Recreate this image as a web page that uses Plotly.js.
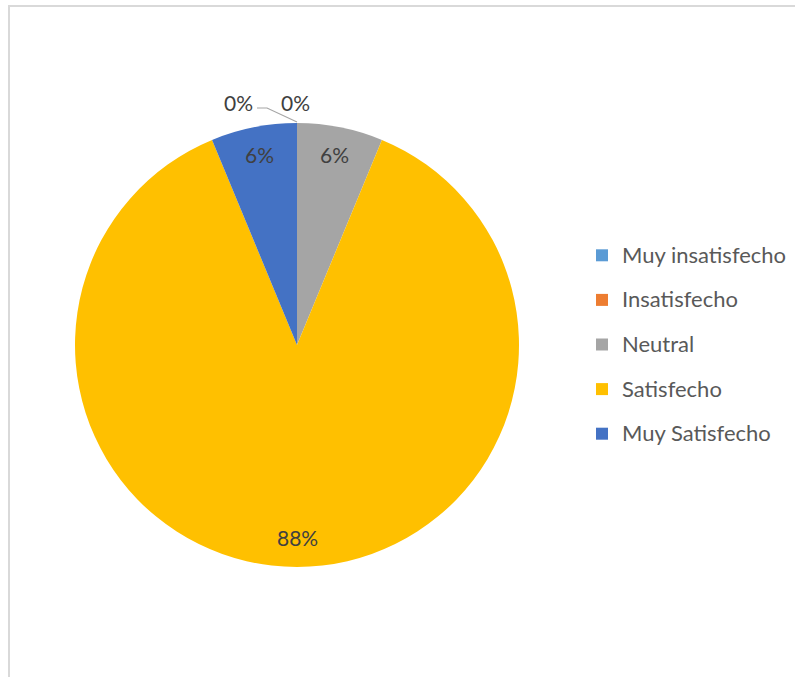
<!DOCTYPE html>
<html>
<head>
<meta charset="utf-8">
<script src="https://cdn.plot.ly/plotly-3.0.1.min.js"></script>
<style>
  html, body { margin:0; padding:0; background:#fff; }
  #chart { position:absolute; left:0; top:0; width:795px; height:677px; }
  #frame { position:absolute; left:8px; top:5px; width:800px; height:700px;
           border-left:2px solid #d9d9d9; border-top:2px solid #d9d9d9; pointer-events:none; }
</style>
</head>
<body>
<div id="chart"></div>
<div id="frame"></div>
<script>
const categories = ["Muy insatisfecho", "Insatisfecho", "Neutral", "Satisfecho", "Muy Satisfecho"];
const values = [0, 0, 1, 14, 1];
const colors = ["#5B9BD5", "#ED7D31", "#A5A5A5", "#FFC000", "#4472C4"];

const W = 795, H = 677;
const cx = 297, cy = 345, R = 222;
const px = x => x / W;
const py = y => 1 - y / H;

const total = values.reduce((a, b) => a + b, 0);
const pct = values.map(v => Math.round(v / total * 100) + '%');

const labelFont = {family: 'Lato, sans-serif', size: 21, color: '#404040'};
const annotations = [];
let acc = 0;
values.forEach((v, i) => {
  const startA = acc / total * 2 * Math.PI;
  acc += v;
  const endA = acc / total * 2 * Math.PI;
  if (v > 0) {
    const mid = (startA + endA) / 2;
    const r = 0.87 * R;
    annotations.push({
      x: px(cx + r * Math.sin(mid)), y: py(cy - r * Math.cos(mid) - 1),
      xref: 'paper', yref: 'paper', text: pct[i], showarrow: false,
      font: labelFont, xanchor: 'center', yanchor: 'middle'
    });
  }
});
// zero-value labels placed outside (first one with leader line)
const zeroPos = [[238, 102], [295, 102]];
let zi = 0;
values.forEach((v, i) => {
  if (v === 0 && zi < zeroPos.length) {
    annotations.push({
      x: px(zeroPos[zi][0]), y: py(zeroPos[zi][1]),
      xref: 'paper', yref: 'paper', text: pct[i], showarrow: false,
      font: labelFont, xanchor: 'center', yanchor: 'middle'
    });
    zi++;
  }
});

const shapes = [{
  type: 'path', xref: 'paper', yref: 'paper',
  path: `M ${px(257)},${py(108)} L ${px(267)},${py(108)} L ${px(297)},${py(122)}`,
  line: {color: '#a6a6a6', width: 1.2}
}];

const trace = {
  type: 'pie',
  labels: categories.map(c => `<span style="font-size:22px;baseline-shift:5px">${c}</span>`),
  values: values,
  marker: {colors: colors, line: {width: 0}},
  sort: false,
  direction: 'clockwise',
  rotation: 0,
  textinfo: 'none',
  hoverinfo: 'label+percent',
  domain: {x: [75 / W, 519 / W], y: [1 - 567 / H, 1 - 123 / H]}
};

const layout = {
  width: W, height: H,
  margin: {l: 0, r: 0, t: 0, b: 0},
  paper_bgcolor: '#ffffff',
  showlegend: true,
  legend: {
    x: px(582), y: py(228), xanchor: 'left', yanchor: 'top',
    font: {family: 'Lato, sans-serif', size: 32, color: '#595959'},
    bgcolor: 'rgba(0,0,0,0)', itemclick: false
  },
  annotations: annotations,
  shapes: shapes
};

Plotly.newPlot('chart', [trace], layout, {displayModeBar: false, staticPlot: true});
</script>
</body>
</html>
